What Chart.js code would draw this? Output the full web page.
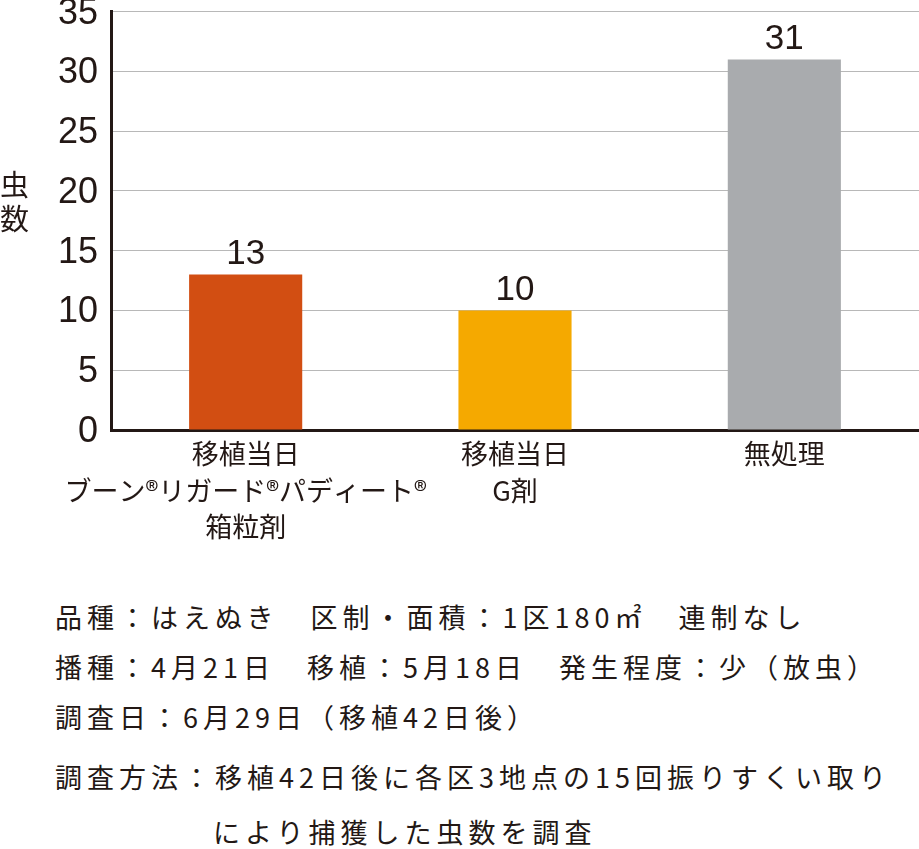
<!DOCTYPE html>
<html>
<head>
<meta charset="utf-8">
<script src="https://cdn.jsdelivr.net/npm/chart.js@4"></script>
<style>
  body { margin: 0; background: #fff; }
  #wrap { position: relative; width: 919px; height: 849px; overflow: hidden; font-family: "Noto Sans CJK JP", "Liberation Sans", sans-serif; color: #231815; }
  #chartBox { position: absolute; left: 0; top: -23px; width: 919px; height: 593px; }
  #ytitle { position: absolute; left: 0px; top: 166px; font-size: 29px; line-height: 34px; }
  .note { position: absolute; left: 55px; font-size: 27px; line-height: 34px; letter-spacing: 5px; white-space: pre; }
</style>
</head>
<body>
<div id="wrap">
  <div id="chartBox"><canvas id="bugChart"></canvas></div>
  <div id="ytitle">虫<br>数</div>
  <div class="note" style="top:600px">品種：はえぬき　区制・面積：1区180㎡　連制なし</div>
  <div class="note" style="top:650px">播種：4月21日　移植：5月18日　発生程度：少（放虫）</div>
  <div class="note" style="top:700px">調査日：6月29日（移植42日後）</div>
  <div class="note" style="top:760px">調査方法：移植42日後に各区3地点の15回振りすくい取り</div>
  <div class="note" style="top:815px;left:213px">により捕獲した虫数を調査</div>
</div>
<script>
// categories and values
const categories = [
  ['移植当日', 'ブーン®リガード®パディート®', '箱粒剤'],
  ['移植当日', 'G剤'],
  ['無処理']
];
const bugCounts = [13, 10, 31];
const barColors = ['#d24e12', '#f5a900', '#a9abae'];
const yTicks = [0, 5, 10, 15, 20, 25, 30, 35];

const ink = '#231815';
const numFont = '"Liberation Sans", sans-serif';
const jpFont = '"Noto Sans CJK JP", "Liberation Sans", sans-serif';

// draw value above each bar
const valueLabels = {
  id: 'valueLabels',
  afterDatasetsDraw(chart) {
    const c = chart.ctx;
    const meta = chart.getDatasetMeta(0);
    c.save();
    c.fillStyle = ink;
    c.font = '35px ' + numFont;
    c.textAlign = 'center';
    c.textBaseline = 'bottom';
    meta.data.forEach(function(bar, i) {
      c.fillText(String(bugCounts[i]), bar.x, bar.y - 3);
    });
    c.restore();
  }
};

const ctx = document.getElementById('bugChart').getContext('2d');
new Chart(ctx, {
  type: 'bar',
  data: {
    labels: categories,
    datasets: [{
      data: bugCounts,
      backgroundColor: barColors,
      borderWidth: 0,
      barPercentage: 0.42,
      categoryPercentage: 1
    }]
  },
  options: {
    responsive: true,
    maintainAspectRatio: false,
    animation: false,
    layout: { padding: { top: 0, right: 0, left: 0, bottom: 0 } },
    scales: {
      x: {
        grid: { display: false, drawTicks: false },
        border: { color: ink, width: 3 },
        ticks: {
          color: ink,
          font: { family: jpFont, size: 27, lineHeight: 1.35 },
          padding: 6,
          maxRotation: 0,
          autoSkip: false
        },
        afterFit: function(scale) { scale.height = 140; }
      },
      y: {
        min: 0,
        max: 35,
        afterBuildTicks: function(scale) {
          scale.ticks = yTicks.map(function(v) { return { value: v }; });
        },
        grid: { color: '#b8b8b8', lineWidth: 1, drawTicks: false },
        border: { color: ink, width: 3 },
        ticks: {
          color: ink,
          font: { family: numFont, size: 36 },
          padding: 13,
          labelOffset: 2
        },
        afterFit: function(scale) { scale.width = 111; }
      }
    },
    plugins: {
      legend: { display: false },
      tooltip: { enabled: false }
    }
  },
  plugins: [valueLabels]
});
</script>
</body>
</html>
